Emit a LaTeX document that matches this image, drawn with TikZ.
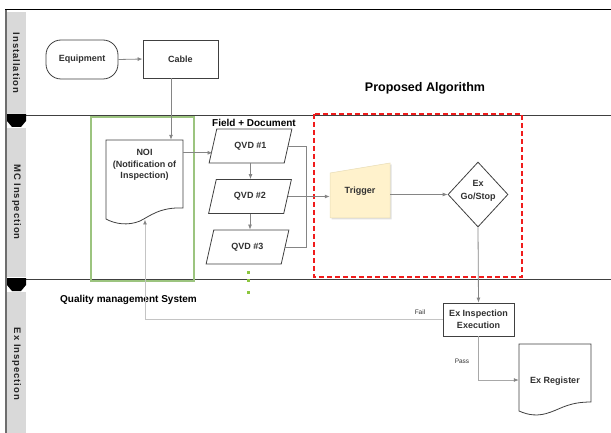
\documentclass[tikz,border=0pt]{standalone}
\usepackage{fontspec}
\setmainfont{Liberation Sans}
\newfontfamily\lanefont[LetterSpace=10,UprightFont={Liberation Sans Bold},BoldFont={Liberation Sans Bold}]{Liberation Sans}
\usetikzlibrary{arrows.meta,shapes.geometric}

\definecolor{bordergray}{HTML}{404040}
\definecolor{textgray}{HTML}{303030}
\definecolor{conngray}{HTML}{858585}
\definecolor{lightconn}{HTML}{C4C4C4}
\definecolor{passconn}{HTML}{A8A8A8}
\definecolor{lanegray}{HTML}{D9D9D9}
\definecolor{laneedge}{HTML}{6E6E6E}
\definecolor{triggerfill}{HTML}{FFF2CC}
\definecolor{triggerline}{HTML}{E8DDB8}
\definecolor{groupgreen}{HTML}{9CC47F}
\definecolor{dotgreen}{HTML}{8CC63F}
\definecolor{algored}{HTML}{F01C1C}

\newcommand\diagfont{\fontsize{9}{11.5}\selectfont\bfseries}

\tikzset{
  box/.style={draw=bordergray, line width=0.8pt, fill=white, font=\diagfont,
    text=textgray, align=center, inner sep=1pt},
  plain/.style={font=\diagfont, text=textgray, align=center, inner sep=0pt},
  qvd/.style={box, trapezium, trapezium left angle=69, trapezium right angle=111,
    trapezium stretches=true, minimum width=83pt, minimum height=34pt},
  conn/.style={draw=conngray, line width=0.8pt, -{Latex[length=5pt,width=4pt]}},
  link/.style={draw=conngray, line width=0.8pt},
  lanelabel/.style={rotate=-90, font=\lanefont\fontsize{9.5}{11}\selectfont,
    text=black!85, inner sep=0pt},
  heading/.style={font=\bfseries\fontsize{10}{12}\selectfont, text=black, inner sep=0pt},
  small/.style={font=\fontsize{6.5}{8}\selectfont, text=textgray, inner sep=0pt},
}

\begin{document}
\begin{tikzpicture}[x=1pt, y=-1pt]
\useasboundingbox (0,0) rectangle (611,433);

% ---- swimlane frame ----
\fill[lanegray] (7,12) rectangle (26,113);
\fill[lanegray] (7,128) rectangle (26,277);
\fill[lanegray] (7,292) rectangle (26,433);
\draw[laneedge, line width=1.5pt] (6,10) -- (6,433);
\draw[black, line width=1pt] (5,10) -- (611,10);
\draw[bordergray, line width=0.8pt] (26,115) -- (611,115);
\draw[bordergray, line width=0.8pt] (26,279) -- (611,279);
\fill[black] (7,114) -- (26,114) -- (26,121) -- (21,127) -- (12,127) -- (7,121) -- cycle;
\fill[black] (7,278) -- (26,278) -- (26,285) -- (21,291) -- (12,291) -- (7,285) -- cycle;

\node[lanelabel] (laneinst) at (16.5,63) {Installation};
\node[lanelabel] (lanemc) at (16.5,202) {MC Inspection};
\node[lanelabel] (laneex) at (16.5,364) {Ex Inspection};

% ---- group frames ----
\draw[groupgreen, line width=1.5pt] (91,117) rectangle (194,281);
\draw[algored, line width=1.6pt, dash pattern=on 5pt off 3pt] (314,114) rectangle (522,277);

% ---- headings ----
\node[heading, font=\bfseries\fontsize{12.5}{14}\selectfont] (algo) at (425,88) {Proposed Algorithm};
\node[heading] (fielddoc) at (254,123) {Field + Document};
\node[heading] (qms) at (128.5,299.5) {Quality management System};

% ---- installation lane ----
\node[box, rounded corners=15pt, minimum width=72pt, minimum height=39pt] (equip) at (82,59.5) {Equipment};
\node[box, minimum width=75pt, minimum height=38pt] (cable) at (180.5,59) {Cable};

% ---- NOI document ----
\draw[bordergray, line width=0.8pt, fill=white]
  (106,140) -- (183,140) -- (183,208)
  .. controls (160,207) and (150,216) .. (140,221)
  .. controls (128,226) and (115,224) .. (106,219) -- cycle;
\node[minimum width=77pt, minimum height=79pt, inner sep=0pt] (noibox) at (144.5,179.5) {};
\node[plain] (noitext) at (144.5,165) {NOI\\(Notification of\\Inspection)};
\coordinate (noiwave) at (145,219.5);

% ---- QVD steps ----
\node[qvd] (q1) at (250.5,146) {QVD \#1};
\node[qvd] (q2) at (250,196.5) {QVD \#2};
\node[qvd] (q3) at (247.5,247) {QVD \#3};
\coordinate (bus) at (306,0);

\fill[dotgreen] (246.5,270.5) rectangle ++(3,3);
\fill[dotgreen] (246.5,278.5) rectangle ++(3,3);
\fill[dotgreen] (246.5,290.5) rectangle ++(3,3);

% ---- trigger (manual input) ----
\fill[black!12] (331.5,174.5) -- (391.5,164.5) -- (391.5,219.5) -- (331.5,219.5) -- cycle;
\draw[triggerline, line width=0.5pt, fill=triggerfill]
  (330,173) -- (390,163) -- (390,218) -- (330,218) -- cycle;
\node[plain, minimum width=60pt, minimum height=45pt] (trig) at (360,195) {};
\node[plain] (trigtext) at (360,191) {Trigger};

% ---- decision ----
\node[box, diamond, minimum width=60pt, minimum height=65pt, inner sep=0pt] (gostop) at (478,194.5) {};
\node[plain, font=\fontsize{9}{13}\selectfont\bfseries] (gostoptext) at (478,191) {Ex\\Go/Stop};

% ---- Ex inspection lane ----
\node[box, minimum width=71pt, minimum height=33pt, font=\fontsize{9}{12}\selectfont\bfseries] (exinsp) at (478.5,319.5) {Ex Inspection\\Execution};

\draw[bordergray, line width=0.8pt, fill=white]
  (519,344) -- (591,344) -- (591,402)
  .. controls (570,402) and (562,408) .. (551,412)
  .. controls (538,417) and (528,415) .. (519,411) -- cycle;
\node[minimum width=72pt, minimum height=72pt, inner sep=0pt] (exreg) at (555,380) {};
\node[plain] (exregtext) at (555,381.5) {Ex Register};

% ---- connectors ----
\draw[conn] (equip.east) -- (cable.west);
\draw[conn] ([xshift=-9.5pt]cable.south) -- ([xshift=-9.5pt]cable.south |- noibox.north);
\coordinate (noiout) at ([yshift=-13pt]noibox.north east);
\draw[conn] (noiout) -- (noiout -| q1.west);
\draw[conn] (q1.south) -- (q1.south |- q2.north);
\draw[conn] (q2.south) -- (q2.south |- q3.north);
\draw[link] (q1.east) -| (bus |- q3.east) -- (q3.east);
\draw[conn] (q2.east) -- (q2.east -| trig.west);
\draw[conn] (trig.east |- gostop) -- (gostop.west);
\draw[conn] (gostop.south) -- (exinsp.north);
\draw[draw=lightconn, line width=0.9pt, -{Latex[length=5pt,width=4pt,color=conngray]}]
  (exinsp.west) -| (noiwave);
\draw[draw=passconn, line width=0.8pt, -{Latex[length=5pt,width=4pt,color=conngray]}]
  (exinsp.south) |- (exreg.west);

\node[small] (faillabel) at (420,312) {Fail};
\node[small] (passlabel) at (462,361) {Pass};
\end{tikzpicture}
\end{document}
